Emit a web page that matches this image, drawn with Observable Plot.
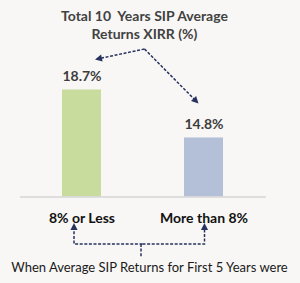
<!DOCTYPE html>
<html>
<head>
<meta charset="utf-8">
<script src="https://cdn.jsdelivr.net/npm/d3@7"></script>
<script src="https://cdn.jsdelivr.net/npm/@observablehq/plot@0.6"></script>
<style>
  html, body { margin: 0; padding: 0; background: #f8f7f5; }
  #chart { width: 300px; height: 283px; overflow: hidden; }
  svg text { white-space: pre; }
</style>
</head>
<body>
<div id="chart"></div>
<script>
// ---- data ----
const categories = ["8% or Less", "More than 8%"];
const returns = [18.7, 14.8];
const valueLabels = ["18.7%", "14.8%"];
const barColors = ["#c7dc9d", "#b3c0d8"];
const titleLines = ["Total 10  Years SIP Average", "Returns XIRR (%)"];
const caption = "When Average SIP Returns for First 5 Years were";
const yDomain = [10, 20];

const data = categories.map((c, i) => ({cat: c, value: returns[i], label: valueLabels[i]}));

const FONT = "Lato, 'Noto Sans', sans-serif";
const chart = Plot.plot({
  width: 300,
  height: 283,
  marginTop: 73.5,
  marginBottom: 86.5,
  marginLeft: 20,
  marginRight: 34,
  style: {background: "transparent", fontFamily: FONT, overflow: "visible"},
  x: {domain: categories, paddingInner: 0.68, paddingOuter: 0.344, axis: null},
  y: {domain: yDomain, axis: null},
  color: {domain: categories, range: barColors},
  marks: [
    Plot.barY(data, {x: "cat", y1: yDomain[0], y2: "value", fill: "cat"}),
    Plot.ruleY([yDomain[0]], {stroke: "#d6d6d6", strokeWidth: 1.3}),
    Plot.text(data, {x: "cat", y: "value", text: "label", dy: -9, lineAnchor: "bottom",
      fontWeight: "bold", fontSize: 14, fill: "#3d3d3d"}),
    Plot.text(data, {x: "cat", text: "cat", frameAnchor: "bottom", dy: 25.5, lineAnchor: "bottom",
      fontWeight: "bold", fontSize: 14, fill: "#111"})
  ]
});
document.getElementById("chart").appendChild(chart);

// ---- annotations from the scales ----
const sx = chart.scale("x"), sy = chart.scale("y");
const cx = c => sx.apply(c) + sx.bandwidth / 2;
const baseY = sy.apply(yDomain[0]);
const mid = (cx(categories[0]) + cx(categories[1])) / 2;
const svg = d3.select(chart);
const g = svg.append("g");
const NAVY = "#27335f";

// title
titleLines.forEach((t, i) => {
  g.append("text").text(t)
    .attr("x", mid + 2).attr("y", 21 + i * 17.5)
    .attr("text-anchor", "middle")
    .attr("font-family", FONT).attr("font-weight", "bold").attr("font-size", 14)
    .attr("fill", "#424242");
});
// caption
g.append("text").text(caption)
  .attr("x", mid + 7).attr("y", baseY + 75)
  .attr("text-anchor", "middle")
  .attr("font-family", FONT).attr("font-size", 13)
  .attr("fill", "#1a1a1a");

function arrow(pts) {
  // pts: polyline points; arrowhead at last point
  const n = pts.length;
  const [x1, y1] = pts[n - 2], [x2, y2] = pts[n - 1];
  const L = Math.hypot(x2 - x1, y2 - y1);
  const ux = (x2 - x1) / L, uy = (y2 - y1) / L;
  const hl = 7, hw = 3.6;
  const bx = x2 - ux * hl, by = y2 - uy * hl;
  const linePts = pts.slice(0, n - 1).concat([[bx + ux, by + uy]]);
  g.append("path")
    .attr("d", d3.line()(linePts))
    .attr("fill", "none").attr("stroke", NAVY).attr("stroke-width", 1.5)
    .attr("stroke-dasharray", "3,1.6");
  g.append("path")
    .attr("d", d3.line()([[x2, y2], [bx - uy * hw, by + ux * hw], [bx + uy * hw, by - ux * hw]]) + "Z")
    .attr("fill", NAVY);
}
const lab0 = sy.apply(returns[0]) - 9, lab1 = sy.apply(returns[1]) - 9;
const origin = [mid + 2, 49];
arrow([origin, [cx(categories[0]) + 13.5, lab0 - 21]]);
arrow([origin, [cx(categories[1]) - 5, lab1 - 25]]);

// bottom bracket
const lx = cx(categories[0]) - 7.5, rx = cx(categories[1]) + 1;
const hy = baseY + 47.5, ty = baseY + 26.5;
arrow([[mid, hy], [lx, hy], [lx, ty]]);
arrow([[mid, hy], [rx, hy], [rx, ty]]);
g.append("path")
  .attr("d", d3.line()([[mid - 1.5, hy], [mid - 1.5, baseY + 61]]))
  .attr("fill", "none").attr("stroke", NAVY).attr("stroke-width", 1.5)
  .attr("stroke-dasharray", "3,1.6");
</script>
</body>
</html>
